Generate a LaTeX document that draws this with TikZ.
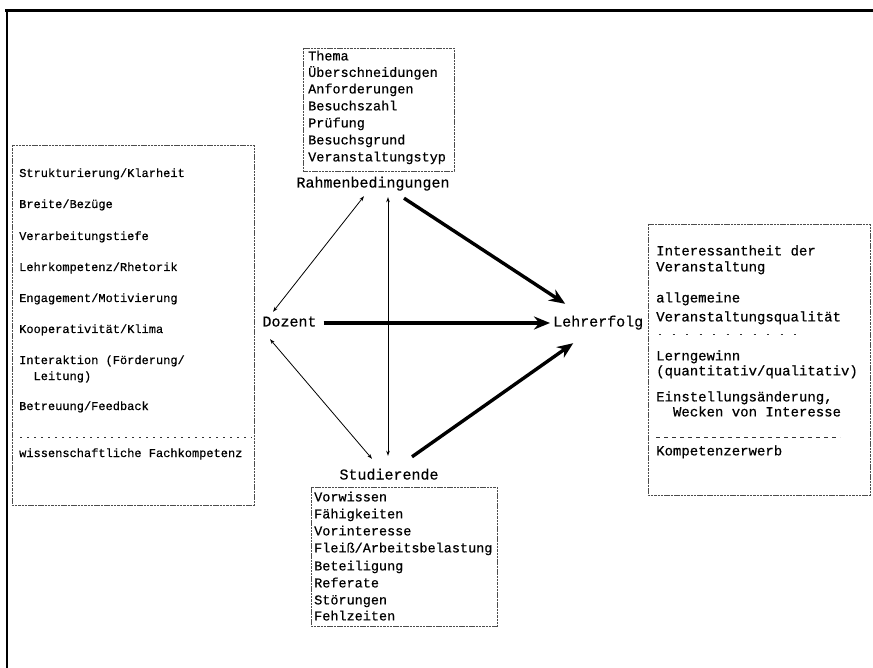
\documentclass[tikz,border=0pt]{standalone}
\usepackage{fontspec}
\newfontfamily\tw[FakeBold=0.5]{Liberation Mono}
\usetikzlibrary{arrows.meta}
\begin{document}
\begin{tikzpicture}[x=1pt,y=-1pt,
  boxline/.style={draw=black!70, line width=0.6pt, dash pattern=on 2.5pt off 0.8pt},
  itemL/.style={anchor=west, inner sep=0pt, text height=8.4pt, text depth=2.4pt, font=\tw\fontsize{12}{14}\selectfont},
  itemT/.style={anchor=west, inner sep=0pt, text height=9.5pt, text depth=2.7pt, font=\tw\fontsize{13.5}{16}\selectfont},
  itemR/.style={anchor=west, inner sep=0pt, text height=9.2pt, text depth=2.4pt, font=\tw\fontsize{14}{16}\selectfont},
  lbl/.style={inner sep=0pt, text height=10pt, text depth=3pt, font=\tw\fontsize{15}{17}\selectfont},
  thinarrow/.style={line width=0.8pt, {Stealth[length=5pt,width=3.5pt]}-{Stealth[length=5pt,width=3.5pt]}},
  thickarrow/.style={line width=3.4pt, -{Stealth[length=16pt,width=13pt]}},
  framerule/.style={line width=2.5pt},
  sepdots/.style={line width=1pt, draw=black!80, dash pattern=on 1.5pt off 5.5pt},
  sepdash/.style={line width=0.8pt, draw=black!80, dash pattern=on 4pt off 4pt},
  sepsparse/.style={line width=1pt, draw=black!80, dash pattern=on 2pt off 11.5pt}
]
\useasboundingbox (0,0) rectangle (873,668);
% outer frame
\draw[framerule] (5,10.5) -- (873,10.5);
\draw[framerule] (7,9.5) -- (7,668);

% left box (Dozent)
\draw[boxline] (12,145) rectangle (254,505);
\node[itemL] (l1) at (19,174) {Strukturierung/Klarheit};
\node[itemL] (l2) at (19,205) {Breite/Bezüge};
\node[itemL] (l3) at (19,237) {Verarbeitungstiefe};
\node[itemL] (l4) at (19,268) {Lehrkompetenz/Rhetorik};
\node[itemL] (l5) at (19,299) {Engagement/Motivierung};
\node[itemL] (l6) at (19,330) {Kooperativität/Klima};
\node[itemL] (l7) at (19,361) {Interaktion (Förderung/};
\node[itemL] (l8) at (19,377) {\ \ Leitung)};
\node[itemL] (l9) at (19,407) {Betreuung/Feedback};
\draw[sepdots] (20,437) -- (252,437);
\node[itemL] (l10) at (19,454) {wissenschaftliche Fachkompetenz};

% top box (Rahmenbedingungen)
\draw[boxline] (303,48) rectangle (454,171);
\node[itemT] (t1) at (308,57) {Thema};
\node[itemT] (t2) at (308,73.5) {Überschneidungen};
\node[itemT] (t3) at (308,90) {Anforderungen};
\node[itemT] (t4) at (308,107) {Besuchszahl};
\node[itemT] (t5) at (308,124) {Prüfung};
\node[itemT] (t6) at (308,141) {Besuchsgrund};
\node[itemT] (t7) at (308,158) {Veranstaltungstyp};

% bottom box (Studierende)
\draw[boxline] (311,487) rectangle (497,626);
\node[itemT] (s1) at (314,498) {Vorwissen};
\node[itemT] (s2) at (314,515) {Fähigkeiten};
\node[itemT] (s3) at (314,532) {Vorinteresse};
\node[itemT] (s4) at (314,549) {Fleiß/Arbeitsbelastung};
\node[itemT] (s5) at (314,567) {Beteiligung};
\node[itemT] (s6) at (314,584) {Referate};
\node[itemT] (s7) at (314,601) {Störungen};
\node[itemT] (s8) at (314,617) {Fehlzeiten};

% right box (Lehrerfolg)
\draw[boxline] (648,224) rectangle (870,495);
\node[itemR] (r1) at (656,252) {Interessantheit der};
\node[itemR] (r2) at (656,268) {Veranstaltung};
\node[itemR] (r3) at (656,299) {allgemeine};
\node[itemR] (r4) at (656,318) {Veranstaltungsqualität};
\draw[sepsparse] (659,335) -- (800,335);
\node[itemR] (r5) at (656,357) {Lerngewinn};
\node[itemR] (r6) at (656,372) {(quantitativ/qualitativ)};
\node[itemR] (r7) at (656,398) {Einstellungsänderung,};
\node[itemR] (r8) at (656,413) {\ \ Wecken von Interesse};
\draw[sepdash] (656,437) -- (840,437);
\node[itemR] (r9) at (656,452) {Kompetenzerwerb};

% labels
\node[lbl] (rahmen) at (373,184) {Rahmenbedingungen};
\node[lbl] (stud) at (389,476) {Studierende};
\node[lbl] (dozent) at (289.5,323) {Dozent};
\node[lbl, anchor=west] (erfolg) at (553,323) {Lehrerfolg};

% connectors
\draw[thinarrow] ([xshift=-16.5pt,yshift=4.5pt]dozent.north) -- ([xshift=-9pt,yshift=-5.5pt]rahmen.south);
\draw[thinarrow] ([xshift=-19.5pt,yshift=-9.5pt]dozent.south) -- ([xshift=-17pt,yshift=10.5pt]stud.north);
\draw[thinarrow] ([xshift=15pt,yshift=-6.5pt]rahmen.south) -- ([xshift=-1pt,yshift=13.5pt]stud.north);
\draw[thickarrow] ([xshift=31pt,yshift=-7.5pt]rahmen.south) -- ([xshift=-33pt,yshift=12.5pt]erfolg.north);
\draw[thickarrow] ([xshift=7pt]dozent.east) -- ([xshift=-3pt]erfolg.west);
\draw[thickarrow] ([xshift=23pt,yshift=12.5pt]stud.north) -- ([xshift=-25pt,yshift=-13.5pt]erfolg.south);
\end{tikzpicture}
\end{document}
